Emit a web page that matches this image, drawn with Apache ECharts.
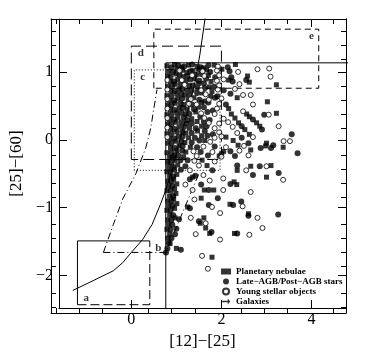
<!DOCTYPE html>
<html><head><meta charset="utf-8">
<script src="https://cdn.jsdelivr.net/npm/echarts@6/dist/echarts.min.js"></script>
<style>html,body{margin:0;padding:0;background:#fff}#c{width:371px;height:355px}</style>
</head><body><div id="c"></div>
<script>
// ---- axis ticks / labels ----
const xMajorTicks = [0, 2, 4];
const xMinorTicks = [-1.5, -1, -0.5, 0.5, 1, 1.5, 2.5, 3, 3.5, 4.5];
const yMajorTicks = [-2, -1, 0, 1];
const yMinorTicks = [-2.4, -2.2, -1.8, -1.6, -1.4, -1.2, -0.8, -0.6, -0.4, -0.2, 0.2, 0.4, 0.6, 0.8, 1.2, 1.4, 1.6];
const xRange = [-1.607, 4.765];
const yRange = [-2.48, 1.78];

// ---- data points [ [12]-[25], [25]-[60] ] ----
const planetaryNebulae = [
[0.79,1.09],[0.96,1.11],[1.12,1.07],[1.27,1.10],[1.46,1.08],[1.61,1.06],[1.84,1.10],[2.31,1.11],
[0.83,1.01],[1.01,1.04],[1.23,0.99],[1.37,1.02],[1.67,1.03],[2.01,1.04],
[0.81,0.94],[0.99,0.97],[1.15,0.93],[1.44,0.96],[1.71,0.95],[2.58,0.94],
[0.87,0.86],[1.03,0.89],[1.21,0.87],[1.41,0.90],[1.77,0.86],[2.16,0.88],[2.62,0.85],
[0.81,0.79],[0.97,0.82],[1.29,0.80],[1.49,0.83],[1.73,0.78],[3.22,0.81],
[0.88,0.72],[1.06,0.75],[1.23,0.73],[1.47,0.76],[1.79,0.71],
[0.79,0.65],[1.01,0.68],[1.19,0.66],[1.57,0.69],[1.76,0.64],
[0.85,0.58],[1.03,0.61],[1.26,0.59],[1.39,0.62],[1.63,0.57],[2.35,0.62],
[0.81,0.51],[0.97,0.54],[1.17,0.52],[1.56,0.55],[3.02,0.56],
[0.87,0.44],[1.06,0.47],[1.24,0.45],[1.49,0.48],[2.16,0.46],
[0.79,0.37],[1.01,0.40],[1.21,0.38],[1.43,0.41],[2.22,0.38],[2.56,0.38],[3.22,0.39],
[0.85,0.30],[1.03,0.33],[1.34,0.31],[2.30,0.32],[2.62,0.34],
[0.81,0.23],[0.99,0.26],[1.23,0.24],[1.46,0.27],[2.38,0.25],[2.78,0.25],
[0.87,0.16],[1.06,0.19],[1.29,0.17],[1.56,0.20],[2.52,0.15],[2.85,0.20],
[0.79,0.09],[1.01,0.12],[1.21,0.10],[1.47,0.13],[2.62,0.08],
[0.85,0.02],[1.04,0.05],[1.27,0.03],[1.56,0.06],[2.10,0.04],
[0.81,-0.05],[0.99,-0.02],[1.19,-0.04],[1.63,-0.01],[2.26,-0.01],[3.00,-0.05],
[0.87,-0.12],[1.06,-0.09],[1.31,-0.11],[2.37,-0.08],[2.98,-0.09],[3.37,-0.11],
[0.79,-0.19],[1.01,-0.16],[1.21,-0.18],[2.05,-0.17],[2.65,-0.15],
[0.85,-0.26],[0.96,-0.23],[1.16,-0.25],[1.95,-0.24],
[0.81,-0.33],[0.97,-0.30],[1.57,-0.30],
[0.83,-0.40],[1.03,-0.37],[1.68,-0.38],[2.65,-0.39],[3.10,-0.38],
[0.79,-0.47],[0.96,-0.44],[2.35,-0.45],
[0.85,-0.54],[1.01,-0.51],[1.36,-0.55],[3.00,-0.55],
[0.81,-0.61],[0.94,-0.58],[2.28,-0.62],
[0.83,-0.68],[1.01,-0.65],[2.34,-0.66],
[0.79,-0.75],[0.96,-0.72],[1.62,-0.74],[1.83,-0.74],
[0.85,-0.83],[0.99,-0.79],
[0.81,-0.90],[0.94,-0.87],[1.55,-0.86],
[0.83,-0.97],[1.01,-0.94],[2.19,-0.95],
[0.79,-1.04],[0.96,-1.01],[1.25,-0.99],
[0.85,-1.11],[2.60,-1.09],
[0.81,-1.18],[0.97,-1.15],[1.61,-1.15],
[0.83,-1.25],[1.53,-1.23],
[0.79,-1.32],[1.65,-1.30],
[0.85,-1.39],[1.74,-1.38],[2.29,-1.38],
[0.81,-1.45],[0.86,-1.53],[1.00,-1.60],[1.79,-1.73]
];
const lateAGB = [
[0.89,1.07],[1.04,1.10],[1.17,1.08],[1.35,1.11],[1.54,1.07],[1.71,1.10],[2.14,1.07],
[0.93,1.00],[1.13,1.03],[1.31,1.01],[1.51,1.04],[1.75,1.00],[2.18,1.01],
[0.87,0.93],[1.07,0.96],[1.25,0.94],[1.55,0.97],[1.86,0.92],[2.22,0.92],
[0.95,0.86],[1.31,0.89],[1.51,0.87],[1.66,0.90],[2.25,0.86],[2.55,0.88],
[0.91,0.79],[1.09,0.82],[1.37,0.80],[1.61,0.83],[1.84,0.78],
[0.96,0.72],[1.13,0.75],[1.34,0.73],[1.63,0.76],[2.05,0.73],
[0.89,0.65],[1.11,0.68],[1.29,0.66],[1.46,0.69],[1.91,0.64],[2.20,0.68],
[0.95,0.58],[1.13,0.61],[1.51,0.59],[1.86,0.62],
[0.89,0.51],[1.09,0.54],[1.34,0.52],[1.71,0.55],[2.10,0.52],
[0.96,0.44],[1.14,0.47],[1.39,0.45],[1.61,0.48],[1.81,0.43],
[0.89,0.37],[1.11,0.40],[1.29,0.38],[1.69,0.41],[2.95,0.37],
[0.95,0.30],[1.16,0.33],[1.24,0.29],[1.53,0.34],[1.74,0.29],[2.70,0.30],
[0.89,0.23],[1.11,0.26],[1.34,0.24],[1.61,0.27],[2.45,0.20],
[0.96,0.16],[1.17,0.19],[1.43,0.17],[1.67,0.20],[2.90,0.15],
[0.89,0.09],[1.13,0.12],[1.34,0.10],[1.63,0.13],[1.81,0.08],[3.56,0.08],
[0.95,0.02],[1.14,0.05],[1.41,0.03],[1.69,0.06],[2.45,0.03],
[0.89,-0.05],[1.11,-0.02],[1.34,-0.04],[1.51,-0.01],[2.60,-0.05],[3.15,-0.08],
[0.96,-0.12],[1.14,-0.09],[1.46,-0.11],[1.85,-0.10],[2.87,-0.12],[3.10,-0.12],
[0.89,-0.19],[1.13,-0.16],[1.54,-0.18],[2.20,-0.17],[3.69,-0.20],
[0.91,-0.26],[1.04,-0.23],[1.70,-0.23],[2.30,-0.24],
[0.87,-0.33],[1.09,-0.30],[1.25,-0.30],[2.00,-0.21],
[0.93,-0.40],[1.20,-0.39],[2.35,-0.38],[2.85,-0.39],
[0.87,-0.47],[1.10,-0.44],[1.80,-0.45],
[0.93,-0.54],[1.42,-0.53],[2.70,-0.52],[3.27,-0.49],
[0.89,-0.61],[1.30,-0.58],
[0.91,-0.68],[1.55,-0.66],[2.20,-0.65],
[0.87,-0.75],[1.72,-0.74],
[0.93,-0.83],[1.92,-0.86],
[0.89,-0.90],[2.44,-0.91],
[0.91,-0.97],[1.72,-0.96],[2.26,-0.96],
[0.87,-1.04],[1.30,-1.01],
[0.93,-1.11],[3.26,-1.10],[2.60,-1.12],
[0.89,-1.18],[1.06,-1.17],[1.50,-1.20],
[0.91,-1.25],[0.87,-1.32],[1.00,-1.31],
[0.97,-1.39],[1.78,-1.36],[2.35,-1.38],
[0.89,-1.45],[0.83,-1.52],[0.80,-1.60],[1.10,-1.62],[0.77,-1.66]
];
const youngStellar = [
[1.92,1.08],[2.80,1.04],[3.06,1.05],
[1.07,1.02],[1.58,1.01],[1.90,1.02],[2.37,1.00],
[1.35,0.95],[1.62,0.94],[1.95,0.95],[3.09,0.93],
[0.80,0.88],[1.12,0.88],[1.90,0.87],[2.05,0.89],
[1.18,0.81],[1.95,0.80],[2.40,0.82],
[0.80,0.74],[1.55,0.73],[1.92,0.74],[2.30,0.75],
[1.65,0.67],[2.48,0.66],[2.65,0.66],
[0.80,0.60],[1.32,0.60],[1.72,0.59],[2.00,0.61],
[1.28,0.53],[1.45,0.52],[1.95,0.53],[2.70,0.52],
[0.80,0.46],[1.90,0.46],[2.48,0.42],
[1.55,0.39],[1.85,0.38],[3.05,0.37],
[0.80,0.32],[1.62,0.32],[2.05,0.31],
[1.72,0.25],[1.95,0.24],[2.15,0.26],
[0.80,0.18],[1.85,0.17],[2.25,0.19],[3.27,0.20],
[1.95,0.11],[2.35,0.10],
[0.80,0.04],[1.85,0.03],[2.00,0.05],[2.70,0.04],
[1.75,-0.03],[3.38,-0.02],[3.52,-0.02],
[1.60,-0.10],[2.10,-0.11],[2.50,-0.09],
[1.38,-0.17],[1.80,-0.18],[2.40,-0.16],
[1.45,-0.24],[2.00,-0.25],[2.60,-0.23],
[1.40,-0.31],[1.85,-0.32],
[1.50,-0.38],[3.00,-0.39],
[1.30,-0.45],[2.55,-0.45],
[2.04,-0.57],[1.60,-0.52],
[1.74,-0.60],[3.37,-0.59],
[1.20,-0.66],[1.36,-0.74],[2.04,-0.74],[2.65,-0.77],
[1.40,-0.88],[1.79,-0.99],[2.47,-0.98],
[1.97,-1.08],[2.80,-1.15],[1.32,-1.15],
[1.65,-1.23],[2.91,-1.30],[1.43,-1.39],[2.62,-1.40],
[1.97,-1.47],[1.57,-1.71],[1.70,-1.90]
];
const galaxies = [];

// ---- region boundaries ----
const solidCurve = [[-1.30,-2.22],[-0.83,-2.07],[-0.40,-1.93],[-0.19,-1.81],[0,-1.66],[0.25,-1.47],[0.46,-1.25],[0.64,-0.96],[0.75,-0.77],[0.92,-0.40],[1.10,0.05],[1.25,0.42],[1.40,0.80],[1.52,1.25],[1.64,1.80]];
const dashDotCurve = [[-0.62,-1.66],[-0.40,-1.25],[-0.19,-0.87],[0.10,-0.50],[0.32,-0.12],[0.43,0.17],[0.50,0.46],[0.57,0.74]];
const regionB = [[-0.62,-1.66],[0.765,-1.66],[1.50,-0.50]];
const regionIV = [[0.765,-2.6],[0.765,1.134],[4.9,1.134]];
const boxA_solid = [[0.41,-1.49],[-1.196,-1.49],[-1.196,-2.43]];
const boxA_dashed = [[-1.196,-2.43],[0.41,-2.43],[0.41,-1.49]];
const boxC = [[0.065,-0.45],[0.065,1.03],[1.97,1.03],[1.97,-0.45],[0.065,-0.45]];
const boxD = [[0,-0.29],[0,1.38],[2.0,1.38],[2.0,-0.29],[0,-0.29]];
const boxE = [[0.5,0.76],[0.5,1.63],[4.16,1.63],[4.16,0.76],[0.5,0.76]];
const regionNames = ['a', 'b', 'c', 'd', 'e'];
const regionLabelX = [-1.0, 0.6, 0.25, 0.21, 4.0];
const regionLabelY = [-2.34, -1.59, 0.92, 1.28, 1.53];

const SERIF = 'Liberation Serif, DejaVu Serif, serif';
const minus = v => String(v).replace('-', '\u2212');
const grid = { left: 51, right: 25, top: 19, bottom: 42 };

function xAxisDef(gridIndex, position, ticks, len, withLabel) {
  return {
    type: 'value', gridIndex, position, min: xRange[0], max: xRange[1],
    axisLine: { show: true, onZero: false, lineStyle: { color: '#000', width: 1 } },
    axisTick: { show: true, inside: true, length: len, customValues: ticks, lineStyle: { color: '#000', width: 1 } },
    axisLabel: withLabel ? { show: true, customValues: xMajorTicks, color: '#000', fontSize: 16, fontFamily: SERIF, margin: 4, formatter: minus } : { show: false },
    splitLine: { show: false },
    name: withLabel ? '[12]\u2212[25]' : '', nameLocation: 'middle', nameGap: 23,
    nameTextStyle: { color: '#000', fontSize: 17, fontFamily: SERIF }
  };
}
function yAxisDef(gridIndex, position, ticks, len, withLabel) {
  return {
    type: 'value', gridIndex, position, min: yRange[0], max: yRange[1],
    axisLine: { show: true, onZero: false, lineStyle: { color: '#000', width: 1 } },
    axisTick: { show: true, inside: true, length: len, customValues: ticks, lineStyle: { color: '#000', width: 1 } },
    axisLabel: withLabel ? { show: true, customValues: yMajorTicks, color: '#000', fontSize: 16, fontFamily: SERIF, margin: 6, formatter: minus } : { show: false },
    splitLine: { show: false },
    name: withLabel ? '[25]\u2212[60]' : '', nameLocation: 'middle', nameGap: 21,
    nameTextStyle: { color: '#000', fontSize: 17, fontFamily: SERIF }
  };
}
function lineSeries(pts, type) {
  return { type: 'line', data: pts, symbol: 'none', silent: true, animation: false, z: 1,
    lineStyle: { color: '#000', width: 1, type: type } };
}

const chart = echarts.init(document.getElementById('c'), null, { renderer: 'canvas' });
chart.setOption({
  animation: false,
  backgroundColor: '#fff',
  grid: [Object.assign({}, grid), Object.assign({}, grid)],
  xAxis: [
    xAxisDef(0, 'bottom', xMajorTicks, 8, true),
    xAxisDef(0, 'top', xMajorTicks, 8, false),
    xAxisDef(1, 'bottom', xMinorTicks, 5, false),
    xAxisDef(1, 'top', xMinorTicks, 5, false)
  ],
  yAxis: [
    yAxisDef(0, 'left', yMajorTicks, 8, true),
    yAxisDef(0, 'right', yMajorTicks, 8, false),
    yAxisDef(1, 'left', yMinorTicks, 5, false),
    yAxisDef(1, 'right', yMinorTicks, 5, false)
  ],
  legend: {
    orient: 'vertical', left: 221, top: 267, padding: 0, itemWidth: 10, itemHeight: 6, itemGap: 1,
    selectedMode: false,
    textStyle: { color: '#000', fontFamily: SERIF, fontWeight: 'bold', fontSize: 9, lineHeight: 9 },
    data: [
      { name: 'Planetary nebulae', icon: 'rect' },
      { name: 'Late\u2212AGB/Post\u2212AGB stars', icon: 'circle' },
      { name: 'Young stellar objects', icon: 'circle' },
      { name: 'Galaxies', icon: 'path://M0,4L7,4L7,1.5L10,5L7,8.5L7,6L0,6Z' }
    ]
  },
  series: [
    lineSeries(regionIV, 'solid'),
    lineSeries(solidCurve, 'solid'),
    lineSeries(dashDotCurve, [7, 3, 1, 3]),
    lineSeries(regionB, [7, 3, 1, 3]),
    lineSeries(boxA_solid, 'solid'),
    lineSeries(boxA_dashed, [9, 4]),
    lineSeries(boxC, [1, 2]),
    lineSeries(boxD, [11, 5]),
    lineSeries(boxE, [6, 4]),
    {
      type: 'scatter', name: 'labels', silent: true, symbolSize: 1, itemStyle: { color: 'rgba(0,0,0,0)' },
      data: regionNames.map((n, i) => ({ name: n, value: [regionLabelX[i], regionLabelY[i]] })),
      label: { show: true, position: 'inside', formatter: p => p.name, color: '#000', fontFamily: SERIF, fontWeight: 'bold', fontSize: 11 }
    },
    { type: 'scatter', name: 'Planetary nebulae', data: planetaryNebulae, symbol: 'rect', symbolSize: 5, z: 3,
      itemStyle: { color: '#000' } },
    { type: 'scatter', name: 'Late\u2212AGB/Post\u2212AGB stars', data: lateAGB, symbol: 'circle', symbolSize: 6, z: 3,
      itemStyle: { color: '#000' } },
    { type: 'scatter', name: 'Young stellar objects', data: youngStellar, symbol: 'circle', symbolSize: 5, z: 4,
      itemStyle: { color: '#fff', borderColor: '#000', borderWidth: 1 } },
    { type: 'scatter', name: 'Galaxies', data: galaxies, symbol: 'arrow', symbolSize: 6, itemStyle: { color: '#000' } }
  ]
});
</script>
</body></html>
